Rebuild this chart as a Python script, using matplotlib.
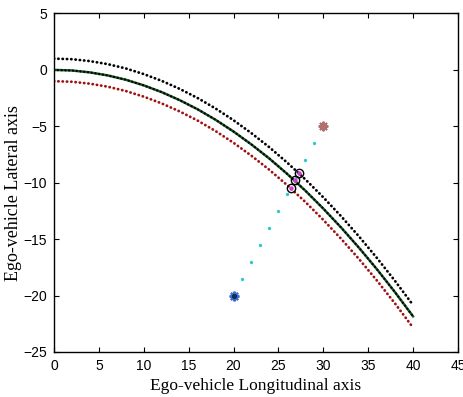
import matplotlib
matplotlib.use("Agg")
import matplotlib.pyplot as plt

# Road boundary curves read at even x positions
x_road = [0, 2, 4, 6, 8, 10, 12, 14, 16, 18, 20, 22, 24, 26, 28, 30, 32, 34, 36, 38, 40]
y_center = [0.0, -0.05, -0.22, -0.49, -0.87, -1.37, -1.97, -2.68, -3.49, -4.42, -5.46,
            -6.61, -7.86, -9.23, -10.70, -12.29, -13.98, -15.78, -17.69, -19.71, -21.84]
y_upper = [1.0, 0.95, 0.78, 0.51, 0.13, -0.37, -0.97, -1.68, -2.49, -3.42, -4.46,
           -5.61, -6.86, -8.23, -9.70, -11.29, -12.98, -14.78, -16.69, -18.71, -20.84]
y_lower = [-1.0, -1.05, -1.22, -1.49, -1.87, -2.37, -2.97, -3.68, -4.49, -5.42, -6.46,
           -7.61, -8.86, -10.23, -11.70, -13.29, -14.98, -16.78, -18.69, -20.71, -22.84]

# Straight path between the two targets
x_path = [21, 22, 23, 24, 25, 26, 27, 28, 29]
y_path = [-18.5, -17.0, -15.5, -14.0, -12.5, -11.0, -9.5, -8.0, -6.5]

# Intersection points (circled)
x_cross = [26.35, 26.8, 27.25]
y_cross = [-10.48, -9.80, -9.13]

start_pt = (20, -20)
goal_pt = (30, -5)

x_ticks = [0, 5, 10, 15, 20, 25, 30, 35, 40, 45]
y_ticks = [-25, -20, -15, -10, -5, 0, 5]

fig = plt.figure(figsize=(4.63, 3.97), dpi=100)
ax = fig.add_axes([0.1166, 0.1134, 0.8724, 0.8526])

dots = dict(linestyle=(0, (0.1, 1.45)), dash_capstyle="round", linewidth=2.0)
ax.plot(x_road, y_upper, color="black", **dots)
ax.plot(x_road, y_lower, color="#a01010", **dots)
ax.plot(x_road, y_center, color="#1d5a2a", linewidth=1.8)
ax.plot(x_road, y_center, color="black", linestyle=(0, (0.1, 1.6)),
        dash_capstyle="round", linewidth=1.6)

ax.plot(x_path, y_path, linestyle="none", marker="o", markersize=2.4,
        color="#2ec8c8", markeredgewidth=0)

ax.plot(x_cross, y_cross, linestyle="none", marker="o", markersize=6.0,
        markerfacecolor="none", markeredgecolor="black", markeredgewidth=1.0)
ax.plot(x_cross, y_cross, linestyle="none", marker="o", markersize=3.2,
        color="#d040d0", markeredgewidth=0)

ax.plot(*start_pt, marker=(8, 2, 0), markersize=7, color="#3a6fd0", markeredgewidth=1.6)
ax.plot(*start_pt, marker=(8, 2, 0), markersize=3, color="#1a2a50", markeredgewidth=1.2)
ax.plot(*goal_pt, marker=(8, 2, 0), markersize=7, color="#b07070", markeredgewidth=1.4)

ax.set_xlim(0, 45)
ax.set_ylim(-25, 5)
ax.set_xticks(x_ticks)
ax.set_yticks(y_ticks)
ax.tick_params(direction="in", top=True, right=True, length=3.5, width=0.8,
               labelsize=10, pad=5)
for lab in ax.get_xticklabels() + ax.get_yticklabels():
    lab.set_fontfamily("Liberation Sans")
for s in ax.spines.values():
    s.set_linewidth(1.0)

ax.set_xlabel("Ego-vehicle Longitudinal axis", fontfamily="Liberation Serif",
              fontsize=12.5, labelpad=4)
ax.set_ylabel("Ego-vehicle Lateral axis", fontfamily="Liberation Serif",
              fontsize=13)
ax.yaxis.set_label_coords(-0.08, 0.47)

fig.savefig("out.png", dpi=100)
